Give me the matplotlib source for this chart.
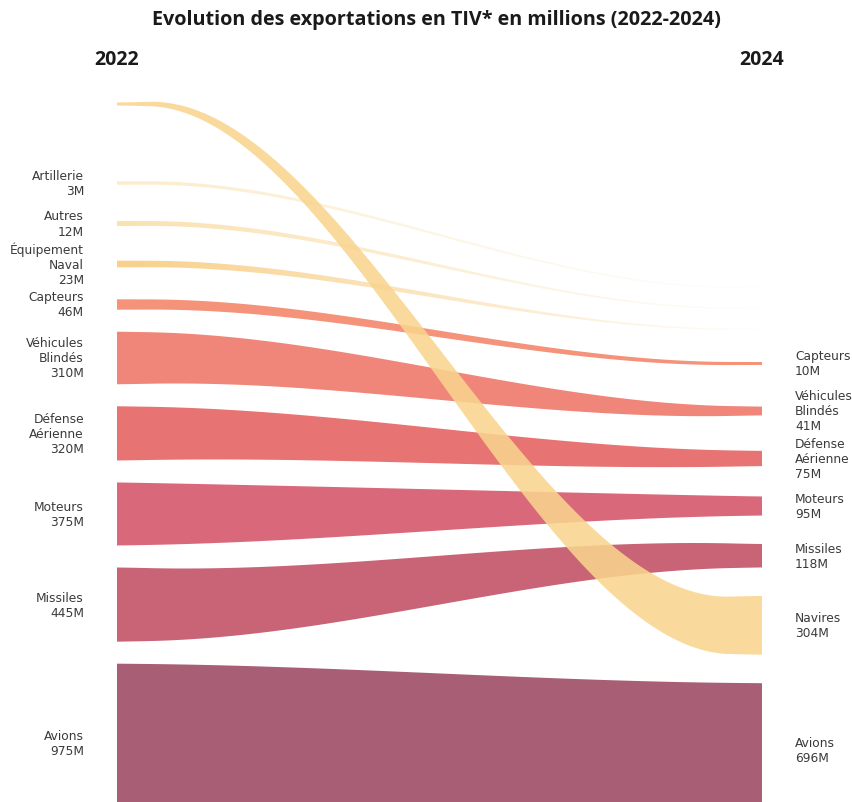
import numpy as np
import matplotlib
matplotlib.use('Agg')
import matplotlib.pyplot as plt
from matplotlib.colors import to_rgb

# data
categories = ['Navires', 'Artillerie', 'Autres', 'Équipement Naval', 'Capteurs',
              'Véhicules Blindés', 'Défense Aérienne', 'Moteurs', 'Missiles', 'Avions']
label_text = ['Navires', 'Artillerie', 'Autres', 'Équipement\nNaval', 'Capteurs',
              'Véhicules\nBlindés', 'Défense\nAérienne', 'Moteurs', 'Missiles', 'Avions']
values_2022 = [0, 3, 12, 23, 46, 310, 320, 375, 445, 975]
values_2024 = [304, 0, 0, 0, 10, 41, 75, 95, 118, 696]

colors = ['#f9d48e', '#f9d48e', '#f9d48e', '#f9d08a', '#f4927a',
          '#f0867a', '#e87373', '#d9687a', '#c86476', '#a85f75']
start_alpha = [0.88, 0.45, 0.7, 1.0, 1, 1, 1, 1, 1, 1]

# canvas (pixel-like units) and layout settings
W, H = 853, 803
X0, X1 = 117, 762
left_cfg = dict(k=0.16, minw=3.0, top=105, s_min=40.5, gap=22, zero_step=21, zero_next=79)
right_cfg = dict(k=0.19, minw=1.0, top=288, s_min=47.5, gap=28.5, zero_step=21, zero_next=34.5)


def layout(values, k, minw, top, s_min, gap, zero_step, zero_next):
    '''
    stacks bands by ascending value, returns centers and widths
    '''
    n = len(values)
    order = sorted(range(n), key=lambda i: (values[i], i))
    widths = minw + k * np.array(values, dtype=float)
    centers = np.zeros(n)
    y = top
    prev = None
    for i in order:
        if prev is not None:
            if values[prev] == 0 and values[i] == 0:
                step = zero_step
            elif values[prev] == 0:
                step = zero_next
            else:
                step = max(s_min, (widths[prev] + widths[i]) / 2 + gap)
            y += step
        centers[i] = y
        prev = i
    return centers, widths


cL, wL = layout(values_2022, **left_cfg)
cR, wR = layout(values_2024, **right_cfg)

fig = plt.figure(figsize=(W / 100, H / 100), dpi=100)
ax = fig.add_axes([0, 0, 1, 1])
ax.set_xlim(0, W)
ax.set_ylim(H, 0)
ax.axis('off')

x = np.linspace(X0, X1, 600)
t = (x - X0) / (X1 - X0)
a = 0.05
u = np.clip((t - a) / (1 - 2 * a), 0, 1)
s = u * u * (3 - 2 * u)
# width eases more linearly than the centre line
sw = 0.4 * t + 0.6 * t * t * (3 - 2 * t)

for i in range(len(categories)):
    c = cL[i] + (cR[i] - cL[i]) * s
    w = wL[i] + (wR[i] - wL[i]) * sw
    top, bot = c - w / 2, c + w / 2
    z = 3 if categories[i] == 'Navires' else 2
    if values_2024[i] == 0:
        poly = ax.fill_between(x, top, bot, facecolor='none', edgecolor='none')
        grad = np.zeros((1, 256, 4))
        grad[..., :3] = to_rgb(colors[i])
        grad[..., 3] = np.linspace(start_alpha[i], 0.03, 256)
        im = ax.imshow(grad, extent=[X0, X1, bot.max() + 2, top.min() - 2],
                       aspect='auto', interpolation='bilinear', zorder=z)
        im.set_clip_path(poly.get_paths()[0], transform=ax.transData)
    else:
        ax.fill_between(x, top, bot, facecolor=colors[i], edgecolor='none',
                        alpha=start_alpha[i], zorder=z, linewidth=0)

ax.set_xlim(0, W)
ax.set_ylim(H, 0)

lab_font = dict(family='DejaVu Sans', fontsize=8.8, color='#3a3a3a', linespacing=1.2)
for i in range(len(categories)):
    if values_2022[i] > 0:
        ax.text(84, cL[i], '{}\n{}M'.format(label_text[i], values_2022[i]),
                ha='right', va='center', **lab_font)
    if values_2024[i] > 0:
        ax.text(795, cR[i], '{}\n{}M'.format(label_text[i], values_2024[i]),
                ha='left', va='center', **lab_font)

ax.text(W / 2 + 10, 20, 'Evolution des exportations en TIV* en millions (2022-2024)',
        ha='center', va='center', fontsize=14.2, fontweight='bold',
        family='Open Sans', color='#1a1a1a')
ax.text(X0, 60, '2022', ha='center', va='center', fontsize=14,
        fontweight='bold', family='Open Sans', color='#1a1a1a')
ax.text(X1, 60, '2024', ha='center', va='center', fontsize=14,
        fontweight='bold', family='Open Sans', color='#1a1a1a')

fig.savefig('out.png', dpi=100, facecolor='white')
